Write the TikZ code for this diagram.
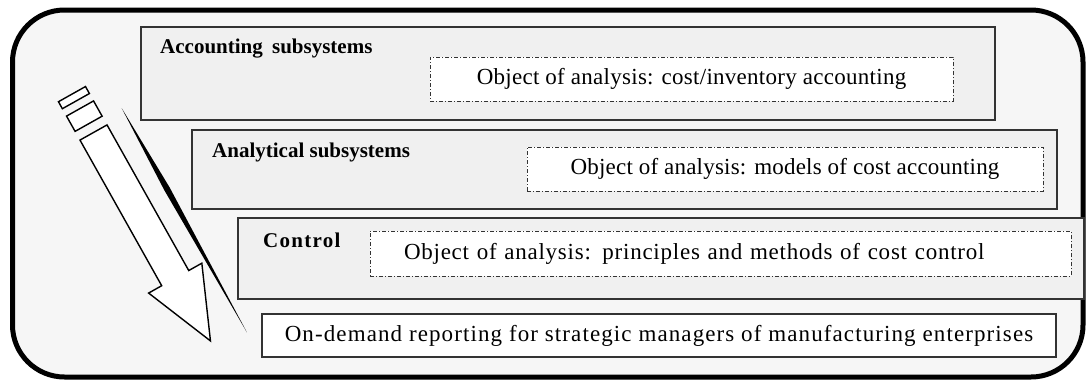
\documentclass[tikz,border=0pt]{standalone}
\usepackage{fontspec}
\setmainfont{Liberation Serif}
\usepackage{xcolor}
\usepackage{tikz}
\usetikzlibrary{positioning}
\definecolor{panelgray}{HTML}{F0F0F0}
\definecolor{framefill}{HTML}{F6F6F6}
\newcommand{\track}[1]{\addfontfeature{LetterSpace=#1}}

\begin{document}
\begin{tikzpicture}[x=1pt, y=-1pt,
    layer/.style={draw=black!80, line width=1.2pt, fill=panelgray, inner sep=0pt},
    objbox/.style={draw=black!80, line width=0.9pt, fill=white,
                   dash pattern=on 4pt off 2pt on 1pt off 2pt, inner sep=0pt,
                   font=\fontsize{23}{27}\selectfont},
    layertitle/.style={font=\fontsize{21}{25}\selectfont\bfseries, inner sep=0pt},
    outline/.style={draw=black, line width=1.4pt, fill=white, line join=miter}]
  \useasboundingbox (0,0) rectangle (1087,381);

  %% Rounded outer frame
  \draw[line width=5pt, rounded corners=52pt, fill=framefill]
    (12.5,10) rectangle (1083,377);

  %% Layers, top to bottom
  \node[layer, minimum width=854pt, minimum height=93pt] (acc) at (568,73.5) {};
  \node[layertitle, anchor=base west] (acctitle) at (160,53) {Accounting\hspace{4pt} subsystems};
  \node[objbox, minimum width=523pt, minimum height=44pt] (accobj) at (691.5,79)
    {\track{1.2}Object of analysis: cost/inventory accounting};

  \node[layer, minimum width=865pt, minimum height=79pt] (ana) at (624.5,169.5) {};
  \node[layertitle, anchor=base west] (anatitle) at (212,157) {Analytical subsystems};
  \node[objbox, minimum width=516pt, minimum height=44pt] (anaobj) at (785,169)
    {\track{0.9}Object of analysis: models of cost accounting};

  \node[layer, minimum width=846pt, minimum height=81pt] (ctl) at (661,258.5) {};
  \node[layertitle, anchor=base west] (ctltitle) at (263,247) {\track{6}Control};
  \node[objbox, text width=633pt, align=left, inner xsep=34pt, minimum height=45pt]
    (ctlobj) at (720.5,253.5)
    {\track{3.3}Object of analysis: principles and methods of cost control};

  \node[layer, fill=white, minimum width=794pt, minimum height=43pt,
        font=\fontsize{23}{27}\selectfont] (rep) at (659,335.5)
    {\track{4.8}On-demand reporting for strategic managers of manufacturing enterprises};

  %% Downward arrow with its two stub segments and the shadow wedge
  \begin{scope}[shift={(93.5,132.5)}, rotate=-60.7]
    \draw[outline] (-44,-15.5) rectangle (-36,15.5);
    \draw[outline] (-27.5,-15.5) rectangle (-10,15.5);
    \draw[outline] (0,-15.5) -- (167,-15.5) -- (167,-30.5) -- (239,0)
      -- (167,30.5) -- (167,15.5) -- (0,15.5) -- cycle;
    \fill[black] (-7.4,-36.5) -- (85,-39.5) -- (249.5,-36) -- (85,-33.5) -- cycle;
  \end{scope}
\end{tikzpicture}
\end{document}
